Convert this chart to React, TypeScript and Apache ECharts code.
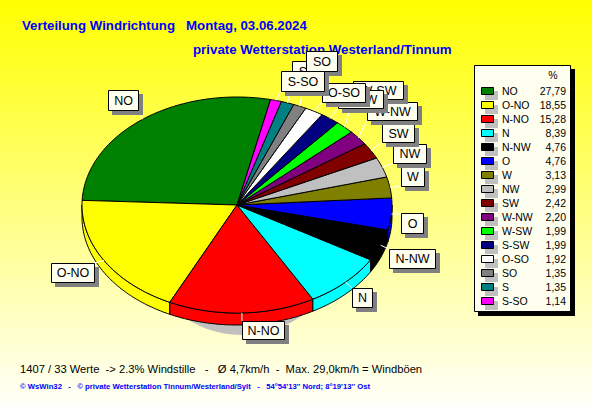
import React, { useEffect, useRef } from "react";
import * as echarts from "echarts";

const directions = ["NO","O-NO","N-NO","N","N-NW","O","W","NW","SW","W-NW","W-SW","S-SW","O-SO","SO","S","S-SO"];
const shares = [27.79,18.55,15.28,8.39,4.76,4.76,3.13,2.99,2.42,2.20,1.99,1.99,1.92,1.35,1.35,1.14];
const shareLabels = ["27,79","18,55","15,28","8,39","4,76","4,76","3,13","2,99","2,42","2,20","1,99","1,99","1,92","1,35","1,35","1,14"];
const sliceColors = ["#008000","#FFFF00","#FF0000","#00FFFF","#000000","#0000FF","#808000","#C0C0C0","#800000","#800080","#00FF00","#000080","#FFFFFF","#808080","#008080","#FF00FF"];

const titleLine1 = "Verteilung Windrichtung   Montag, 03.06.2024";
const titleLine2 = "private Wetterstation Westerland/Tinnum";
const footerLine1 = "1407 / 33 Werte  -> 2.3% Windstille   -   Ø 4,7km/h  -  Max. 29,0km/h = Windböen";
const footerLine2 = "© WsWin32   -   © private Wetterstation Tinnum/Westerland/Sylt   -   54°54'13'' Nord; 8°19'13'' Ost";

// label boxes: [left, top, right, bottom], in painting order further below
const labelBoxes: Record<string, number[]> = {
  "NO": [108, 90, 138, 110],
  "O-NO": [51, 263, 94, 282],
  "N-NO": [242, 321, 284, 339],
  "N": [352, 288, 372, 307],
  "N-NW": [389, 249, 435, 268],
  "O": [401, 213, 423, 233],
  "W": [401, 167, 424, 186],
  "NW": [393, 144, 426, 163],
  "SW": [382, 124, 414, 142],
  "W-NW": [367, 102, 417, 120],
  "W-SW": [353, 81, 403, 99],
  "S-SW": [338, 90, 383, 108],
  "O-SO": [322, 83, 365, 102],
  "S": [292, 61, 313, 81],
  "SO": [306, 51, 337, 71],
  "S-SO": [281, 71, 324, 91],
};
const labelOrder = ["NO","O-NO","N-NO","N","N-NW","O","W","NW","SW","W-NW","W-SW","S-SW","O-SO","S","SO","S-SO"];

const CX = 237, CY = 205, RX = 155, RY = 108, DEPTH = 12, START = 77.5;
const rad = (d: number) => (d * Math.PI) / 180;
const px = (d: number) => CX + RX * Math.cos(rad(d));
const py = (d: number) => CY - RY * Math.sin(rad(d));
const total = shares.reduce((a, b) => a + b, 0);
const startAngles: number[] = [];
shares.reduce((acc, v, i) => { startAngles[i] = START + (acc / total) * 360; return acc + v; }, 0);
const angleSpan = (v: number) => (v / total) * 360;

function arc(a: number, b: number, dy = 0) {
  const pts: number[][] = [];
  const n = Math.max(2, Math.ceil(Math.abs(b - a)));
  for (let i = 0; i <= n; i++) {
    const d = a + ((b - a) * i) / n;
    pts.push([px(d), py(d) + dy]);
  }
  return pts;
}

const chartData = shares.map((v, i) => ({ name: directions[i], value: [v, i] }));
const labelData = labelOrder.map((n) => ({ name: n, value: [shares[directions.indexOf(n)], directions.indexOf(n)] }));
const NO_POINTER: any = { silent: true, animation: false, clip: false, coordinateSystem: "none", type: "custom" };

const App = () => {
  const ref = useRef<HTMLDivElement>(null);
  useEffect(() => {
    const chart = echarts.init(ref.current!, undefined, { renderer: "svg" });
    const text = (t: string, x: number, y: number, font: string, fill: string, align = "left") => ({
      type: "text", x, y, silent: true,
      style: { text: t, font, fill, align, verticalAlign: "middle" },
    });
    const legendRows: any[] = [];
    directions.forEach((d, i) => {
      const y = 87 + i * 14;
      legendRows.push(
        { type: "rect", silent: true, shape: { x: 485, y: y + 4, width: 13, height: 9 }, style: { fill: "#C0C0C0" } },
        { type: "rect", silent: true, shape: { x: 481.5, y: y + 0.5, width: 12, height: 7 }, style: { fill: sliceColors[i], stroke: "#000", lineWidth: 1 } },
        text(d, 502, y + 4, "10.5px 'Liberation Sans'", "#000"),
        text(shareLabels[i], 566, y + 4, "10.5px 'Liberation Sans'", "#000", "right"),
      );
    });
    chart.setOption({
      animation: false,
      backgroundColor: {
        type: "linear", x: 0, y: 0, x2: 0, y2: 1,
        colorStops: [{ offset: 0, color: "#FFFF00" }, { offset: 1, color: "#FFFFFA" }],
      },
      graphic: [
        text(titleLine1, 22, 25, "bold 13.25px 'Liberation Sans'", "#0000FF"),
        text(titleLine2, 193, 49, "bold 13.3px 'Liberation Sans'", "#0000FF"),
        text(footerLine1, 20, 369, "11.2px 'Liberation Sans'", "#000"),
        text(footerLine2, 20, 386, "bold 7.7px 'Liberation Sans'", "#0000FF"),
        { type: "rect", silent: true, shape: { x: 478, y: 69, width: 97, height: 247 }, style: { fill: "#000" } },
        { type: "rect", silent: true, shape: { x: 474.5, y: 65.5, width: 96, height: 246 }, style: { fill: "#FFFFF0", stroke: "#000", lineWidth: 1 } },
        text("%", 553, 75, "10.5px 'Liberation Sans'", "#000", "center"),
        ...legendRows,
      ],
      series: [
        {
          ...NO_POINTER, id: "shadow", z: 1, data: [[1]],
          renderItem: () => ({
            type: "ellipse", shape: { cx: 242, cy: 227, rx: 105, ry: 108 }, style: { fill: "#C0C0C0" },
          }),
        },
        {
          ...NO_POINTER, id: "walls", z: 2, data: chartData,
          renderItem: (p: any, api: any) => {
            const i = api.value(1);
            const a = Math.max(startAngles[i], 180);
            const b = Math.min(startAngles[i] + angleSpan(api.value(0)), 360);
            if (b <= a) return { type: "group", children: [] };
            const top = arc(a, b), bottom = arc(b, a, DEPTH);
            return {
              type: "polygon", shape: { points: [...top, ...bottom] },
              style: { fill: sliceColors[i], stroke: "#000", lineWidth: 1 },
            };
          },
        },
        {
          ...NO_POINTER, id: "tops", z: 3, data: chartData,
          renderItem: (p: any, api: any) => {
            const i = api.value(1);
            const a = startAngles[i], b = a + angleSpan(api.value(0));
            return {
              type: "polygon", shape: { points: [[CX, CY], ...arc(a, b)] },
              style: { fill: sliceColors[i], stroke: "#000", lineWidth: 1, lineJoin: "round" },
            };
          },
        },
        {
          ...NO_POINTER, id: "leaders", z: 4, data: chartData,
          renderItem: (p: any, api: any) => {
            const i = api.value(1);
            const m = startAngles[i] + angleSpan(api.value(0)) / 2;
            const x = px(m), y = py(m);
            const box = labelBoxes[directions[i]];
            const cx = Math.min(Math.max(x, box[0]), box[2]);
            const cy = Math.min(Math.max(y, box[1]), box[3]);
            return { type: "line", shape: { x1: x, y1: y, x2: cx, y2: cy }, style: { stroke: "#FFF", lineWidth: 1 } };
          },
        },
        {
          ...NO_POINTER, id: "labels", z: 5, data: labelData,
          renderItem: (p: any, api: any) => {
            const i = api.value(1);
            const [l, t, r, b] = labelBoxes[directions[i]];
            return {
              type: "group",
              children: [
                { type: "rect", shape: { x: l + 4, y: t + 4, width: r - l + 1, height: b - t + 1 }, style: { fill: "#808080" } },
                { type: "rect", shape: { x: l + 0.5, y: t + 0.5, width: r - l, height: b - t }, style: { fill: "#FFFFF0", stroke: "#000", lineWidth: 1 } },
                { type: "text", x: (l + r) / 2 + 0.5, y: (t + b) / 2 + 0.5, style: { text: directions[i], font: "12.5px 'Liberation Sans'", fill: "#000", align: "center", verticalAlign: "middle" } },
              ],
            };
          },
        },
      ],
    });
    return () => chart.dispose();
  }, []);
  return <div ref={ref} style={{ position: "absolute", left: 0, top: 0, width: 592, height: 407 }} />;
};

export default App;
